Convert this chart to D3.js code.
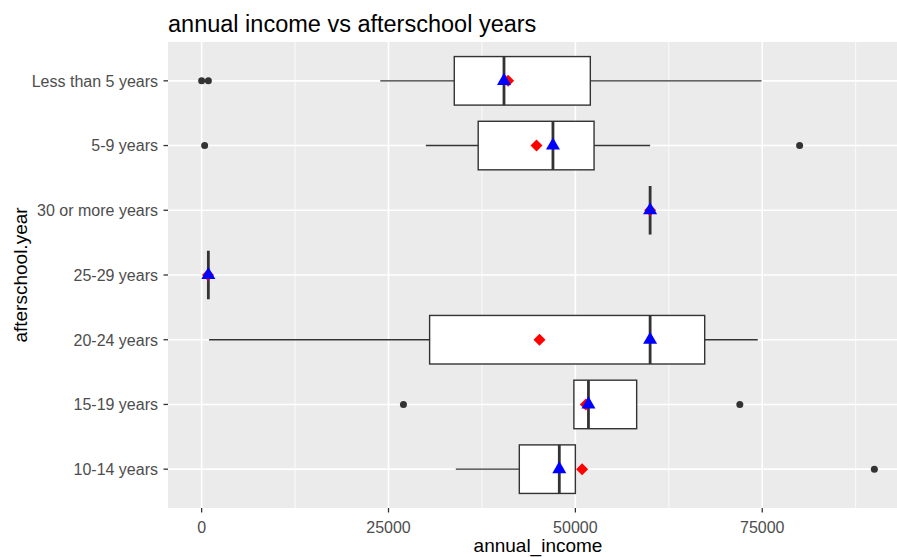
<!DOCTYPE html>
<html>
<head>
<meta charset="utf-8">
<script src="https://cdn.jsdelivr.net/npm/d3@7"></script>
<style>
  body { margin: 0; background: #fff; overflow: hidden; }
  text { font-family: "Liberation Sans", Arial, sans-serif; }
</style>
</head>
<body>
<div id="chart"></div>
<script>
// factor levels, bottom to top as ggplot orders them
const categories = ["10-14 years", "15-19 years", "20-24 years", "25-29 years",
                    "30 or more years", "5-9 years", "Less than 5 years"];

// boxplot stats
const whiskerLow  = [34000, 49800, 1000,  900, 60000, 30000, 23900];
const q1          = [42500, 49800, 30500, 900, 60000, 37000, 33800];
const medians     = [47850, 51750, 60000, 900, 60000, 47000, 40450];
const q3          = [50000, 58200, 67300, 900, 60000, 52500, 52000];
const whiskerHigh = [50000, 58200, 74400, 900, 60000, 60000, 74900];
const means       = [50900, 51400, 45200, 850, 60000, 44800, 41000];
const outliers    = [[90000], [27000, 72000], [], [], [], [400, 80000], [0, 900]];

const xTicks = [0, 25000, 50000, 75000];
const xMinor = [12500, 37500, 62500, 87500];

const W = 897, H = 557;
const margin = { top: 42, left: 168 };
const panelW = 740, panelH = 466;

const svg = d3.select("#chart").append("svg")
    .attr("width", W).attr("height", H);

const allVals = whiskerLow.concat(whiskerHigh, outliers.flat(), means);
const [lo, hi] = d3.extent(allVals);
const pad = (hi - lo) * 0.05;

const x = d3.scaleLinear().domain([lo - pad, hi + pad]).range([0, panelW]);
const y = d3.scalePoint().domain(categories).range([panelH, 0]).padding(0.6);

const g = svg.append("g").attr("transform", `translate(${margin.left},${margin.top})`);

g.append("rect").attr("width", panelW).attr("height", panelH).attr("fill", "#EBEBEB");

// grid
g.selectAll(".minor").data(xMinor).join("line")
    .attr("x1", d => x(d)).attr("x2", d => x(d))
    .attr("y1", 0).attr("y2", panelH)
    .attr("stroke", "#fff").attr("stroke-width", 0.8);
g.selectAll(".majorx").data(xTicks).join("line")
    .attr("x1", d => x(d)).attr("x2", d => x(d))
    .attr("y1", 0).attr("y2", panelH)
    .attr("stroke", "#fff").attr("stroke-width", 1.6);
g.selectAll(".majory").data(categories).join("line")
    .attr("x1", 0).attr("x2", panelW)
    .attr("y1", d => y(d)).attr("y2", d => y(d))
    .attr("stroke", "#fff").attr("stroke-width", 1.6);

const boxH = y.step() * 0.75;
const stroke = "#333333";

categories.forEach((c, i) => {
    const cy = y(c);
    const row = g.append("g");
    // whiskers
    row.append("line")
        .attr("x1", x(whiskerLow[i])).attr("x2", x(q1[i]))
        .attr("y1", cy).attr("y2", cy)
        .attr("stroke", stroke).attr("stroke-width", 1.4);
    row.append("line")
        .attr("x1", x(q3[i])).attr("x2", x(whiskerHigh[i]))
        .attr("y1", cy).attr("y2", cy)
        .attr("stroke", stroke).attr("stroke-width", 1.4);
    // box
    row.append("rect")
        .attr("x", x(q1[i])).attr("y", cy - boxH / 2)
        .attr("width", x(q3[i]) - x(q1[i])).attr("height", boxH)
        .attr("fill", "#fff").attr("stroke", stroke).attr("stroke-width", 1.4);
    // median
    row.append("line")
        .attr("x1", x(medians[i])).attr("x2", x(medians[i]))
        .attr("y1", cy - boxH / 2).attr("y2", cy + boxH / 2)
        .attr("stroke", stroke).attr("stroke-width", 2.8);
    // outliers
    row.selectAll("circle").data(outliers[i]).join("circle")
        .attr("cx", d => x(d)).attr("cy", cy).attr("r", 3.5)
        .attr("fill", stroke);
});

// mean as red diamond
g.selectAll(".mean").data(categories).join("path")
    .attr("d", d3.symbol(d3.symbolSquare, 72)())
    .attr("transform", (d, i) => `translate(${x(means[i])},${y(d)}) rotate(45)`)
    .attr("fill", "#FF0000");

// median as blue triangle
g.selectAll(".med").data(categories).join("path")
    .attr("d", d3.symbol(d3.symbolTriangle, 85)())
    .attr("transform", (d, i) => `translate(${x(medians[i])},${y(d)})`)
    .attr("fill", "#0000FF");

// x axis
const xAxis = svg.append("g");
xAxis.selectAll("line").data(xTicks).join("line")
    .attr("x1", d => margin.left + x(d)).attr("x2", d => margin.left + x(d))
    .attr("y1", margin.top + panelH).attr("y2", margin.top + panelH + 4.5)
    .attr("stroke", stroke).attr("stroke-width", 1.3);
xAxis.selectAll("text").data(xTicks).join("text")
    .attr("x", d => margin.left + x(d)).attr("y", 532.5)
    .attr("text-anchor", "middle").attr("font-size", 16).attr("fill", "#4D4D4D")
    .text(d => d);

// y axis
const yAxis = svg.append("g");
yAxis.selectAll("line").data(categories).join("line")
    .attr("x1", margin.left - 4.5).attr("x2", margin.left)
    .attr("y1", d => margin.top + y(d)).attr("y2", d => margin.top + y(d))
    .attr("stroke", stroke).attr("stroke-width", 1.3);
yAxis.selectAll("text").data(categories).join("text")
    .attr("x", 158).attr("y", d => margin.top + y(d)).attr("dy", "0.37em")
    .attr("text-anchor", "end").attr("font-size", 16).attr("fill", "#4D4D4D")
    .text(d => d);

// titles
svg.append("text")
    .attr("x", margin.left + panelW / 2).attr("y", 551.5)
    .attr("text-anchor", "middle").attr("font-size", 19).attr("fill", "#000")
    .text("annual_income");
svg.append("text")
    .attr("transform", `translate(27,${margin.top + panelH / 2}) rotate(-90)`)
    .attr("text-anchor", "middle").attr("font-size", 19).attr("fill", "#000")
    .text("afterschool.year");
svg.append("text")
    .attr("x", 168).attr("y", 32)
    .attr("font-size", 23.5).attr("fill", "#000")
    .text("annual income vs afterschool years");
</script>
</body>
</html>
